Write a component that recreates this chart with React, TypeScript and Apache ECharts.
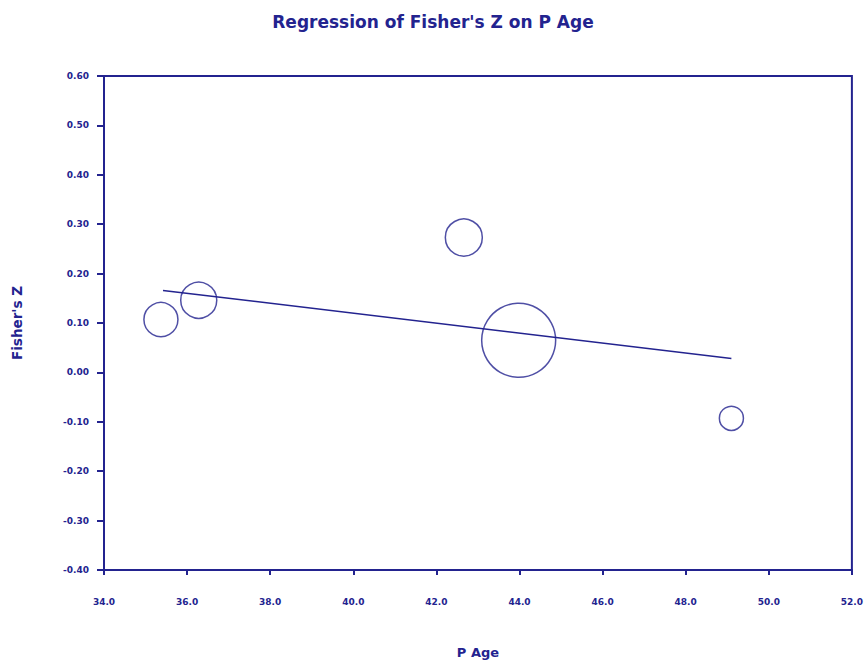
import React, { useEffect, useRef } from "react";
import * as echarts from "echarts";

const NAVY = "#23238f";
const FONT = "DejaVu Sans, Liberation Sans, Arial, sans-serif";

const studyAge = [35.37, 36.28, 42.66, 43.98, 49.1];
const fisherZ = [0.107, 0.146, 0.273, 0.065, -0.093];
const studyWeight = [116, 130, 137, 548, 58];

const regAge = [35.42, 49.1];
const regZ = [0.166, 0.028];

export default function App() {
  const ref = useRef<HTMLDivElement>(null);
  useEffect(() => {
    const chart = echarts.init(ref.current!, null, { renderer: "svg" });
    const bubbles = studyAge.map((x, i) => [x, fisherZ[i], studyWeight[i]]);
    const reg = regAge.map((x, i) => [x, regZ[i]]);
    chart.setOption({
      animation: false,
      backgroundColor: "#ffffff",
      title: {
        text: "Regression of Fisher's Z on P Age",
        left: "center",
        top: 8,
        textStyle: { color: NAVY, fontSize: 17, fontWeight: "bold", fontFamily: FONT },
      },
      grid: { left: 104, right: 10, top: 76, bottom: 93, show: true, borderColor: NAVY, borderWidth: 2, backgroundColor: "transparent" },
      xAxis: {
        type: "value",
        min: 34,
        max: 52,
        interval: 2,
        name: "P Age",
        nameLocation: "middle",
        nameGap: 76,
        nameTextStyle: { color: NAVY, fontSize: 13, fontWeight: "bold", fontFamily: FONT },
        axisLine: { show: true, onZero: false, lineStyle: { color: NAVY, width: 2 } },
        axisTick: { show: true, length: 5, lineStyle: { color: NAVY, width: 2 } },
        axisLabel: { color: NAVY, fontSize: 9, fontWeight: "bold", margin: 27, formatter: (v: number) => v.toFixed(1), fontFamily: FONT },
        splitLine: { show: false },
      },
      yAxis: {
        type: "value",
        min: -0.4,
        max: 0.6,
        interval: 0.1,
        name: "Fisher's Z",
        nameLocation: "middle",
        nameGap: 80,
        nameRotate: 90,
        nameTextStyle: { color: NAVY, fontSize: 13.5, fontWeight: "bold", fontFamily: FONT },
        axisLine: { show: true, onZero: false, lineStyle: { color: NAVY, width: 2 } },
        axisTick: { show: true, length: 7, lineStyle: { color: NAVY, width: 2 } },
        axisLabel: { color: NAVY, fontSize: 9, fontWeight: "bold", margin: 15, formatter: (v: number) => v.toFixed(2), fontFamily: FONT },
        splitLine: { show: false },
      },
      series: [
        {
          type: "line",
          data: reg,
          symbol: "none",
          lineStyle: { color: NAVY, width: 1.5 },
          z: 3,
        },
        {
          type: "scatter",
          data: bubbles,
          symbol: "circle",
          symbolSize: (d: number[]) => Math.sqrt(d[2]) * 3.16,
          itemStyle: { color: "rgba(0,0,0,0)", borderColor: NAVY, borderWidth: 1.5 },
          z: 4,
        },
      ],
    });
    return () => chart.dispose();
  }, []);
  return <div ref={ref} style={{ position: "fixed", left: 0, top: 0, width: 866, height: 664, background: "#fff" }} />;
}
